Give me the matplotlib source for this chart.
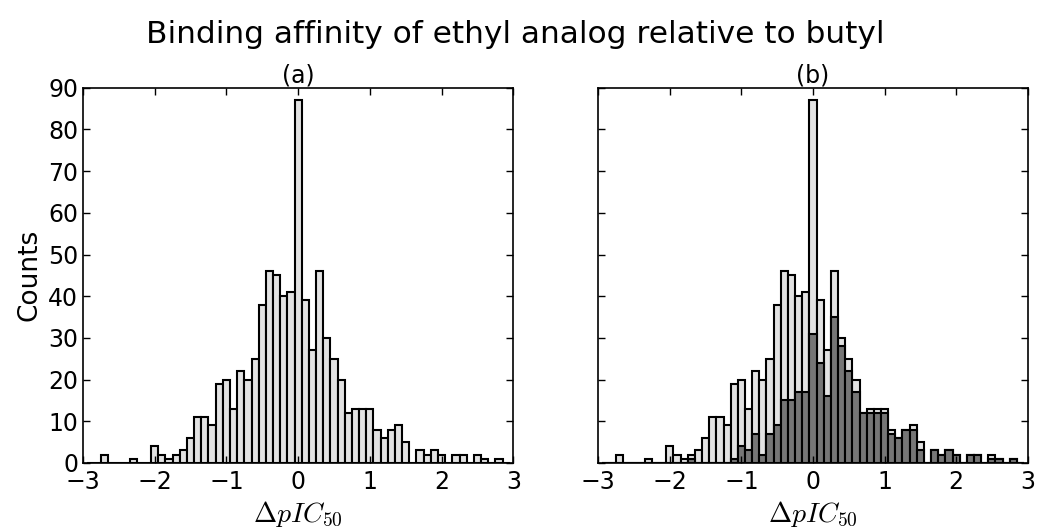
import matplotlib
matplotlib.use('Agg')
import matplotlib.pyplot as plt
import numpy as np

plt.rcParams['mathtext.fontset'] = 'cm'
plt.rcParams['xtick.direction'] = 'in'
plt.rcParams['ytick.direction'] = 'in'
plt.rcParams['xtick.top'] = True
plt.rcParams['ytick.right'] = True
plt.rcParams['xtick.major.size'] = 5
plt.rcParams['ytick.major.size'] = 5

# bin centres of delta pIC50 (width 0.1)
centers = np.round(np.arange(-2.9, 2.91, 0.1), 1)
edges = np.arange(-2.95, 2.96, 0.1)

# all pairs
counts_all = [0, 0, 2, 0, 0, 0, 1, 0, 0, 4,
              2, 1, 2, 3, 6, 11, 11, 9, 19, 20,
              13, 22, 20, 25, 38, 46, 45, 40, 41, 87,
              39, 27, 46, 30, 25, 20, 12, 13, 13, 13,
              8, 6, 8, 9, 5, 0, 3, 2, 3, 2,
              0, 2, 2, 0, 2, 1, 0, 1, 0]

# subset
counts_sub = [0, 0, 0, 0, 0, 0, 0, 0, 0, 0,
              0, 0, 1, 0, 0, 0, 0, 0, 1, 4,
              3, 7, 2, 7, 9, 15, 15, 17, 17, 31,
              24, 16, 35, 28, 22, 17, 12, 12, 12, 12,
              7, 6, 8, 8, 3, 0, 3, 2, 3, 2,
              0, 2, 2, 0, 1, 1, 0, 1, 0]

light = '#e2e2e2'
dark = '#767676'

fig = plt.figure(figsize=(10.37, 5.29), dpi=100)
ax1 = fig.add_axes([0.080, 0.125, 0.415, 0.709])
ax2 = fig.add_axes([0.577, 0.125, 0.414, 0.709], sharey=ax1)

ax1.hist(centers, bins=edges, weights=counts_all, color=light,
         edgecolor='black', linewidth=1.5)
ax2.hist(centers, bins=edges, weights=counts_all, color=light,
         edgecolor='black', linewidth=1.5)
ax2.hist(centers, bins=edges, weights=counts_sub, color=dark,
         edgecolor='black', linewidth=1.5)

for ax, t in [(ax1, '(a)'), (ax2, '(b)')]:
    ax.set_xlim(-3, 3)
    ax.set_ylim(0, 90)
    ax.set_xticks(range(-3, 4))
    ax.set_yticks(range(0, 91, 10))
    ax.tick_params(labelsize=17, width=1)
    ax.tick_params(axis='x', pad=5)
    ax.set_title(t, fontsize=17, pad=4)
    ax.set_xlabel(r'$\Delta pIC_{50}$', fontsize=20, labelpad=4)
    for s in ax.spines.values():
        s.set_linewidth(1.2)

ax1.set_ylabel('Counts', fontsize=19)
plt.setp(ax2.get_yticklabels(), visible=False)

fig.suptitle('Binding affinity of ethyl analog relative to butyl',
             fontsize=22.5, x=0.497, y=0.962)

fig.savefig('out.png', dpi=100)
